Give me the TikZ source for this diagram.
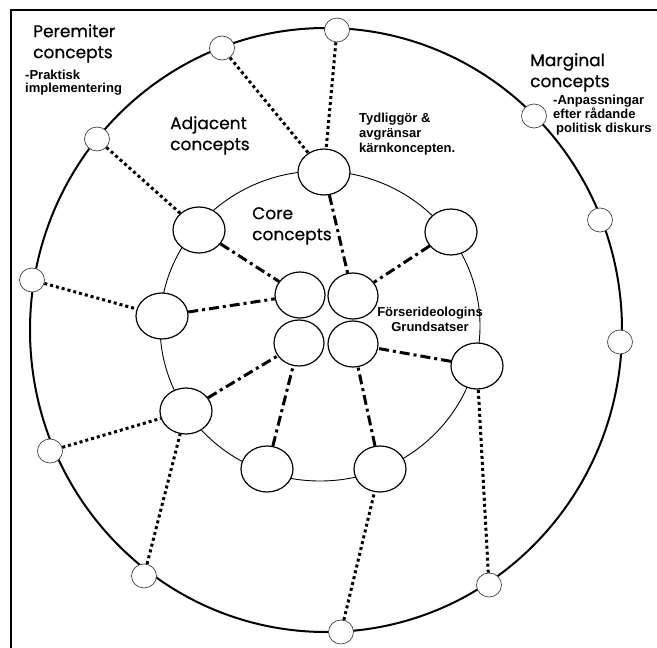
\documentclass[tikz,border=0pt]{standalone}
\usepackage{fontspec}
\setmainfont{Liberation Sans}
\newfontfamily\geo{Poppins}[FakeBold=0.4]
\usetikzlibrary{shapes.geometric}
\begin{document}
\begin{tikzpicture}[x=1pt,y=-1pt,
  bignode/.style={ellipse, draw, line width=1.2pt, fill=white, minimum width=52pt, minimum height=46pt, inner sep=0pt},
  smallnode/.style={ellipse, draw=black!75, line width=0.7pt, fill=white, minimum width=25pt, minimum height=24pt, inner sep=0pt},
  dashdotline/.style={line width=3pt, dash pattern=on 10pt off 4pt on 3pt off 4pt},
  dotline/.style={line width=3pt, dash pattern=on 3pt off 3pt},
  headtxt/.style={font=\geo\fontsize{17}{21}\selectfont, align=left, anchor=north west, inner sep=0pt},
  notetxt/.style={font=\bfseries\fontsize{13}{14}\selectfont, align=left, anchor=north west, inner sep=0pt}
]
\useasboundingbox (0,0) rectangle (657,648);
% frame
\draw[line width=2.5pt] (657,10) -- (11,10) -- (11,648);
% rings
\draw[line width=2pt] (326,330) ellipse [x radius=296pt, y radius=302pt];
\draw[line width=0.9pt] (320,326) ellipse [x radius=160pt, y radius=155pt];
% outer nodes
\node[smallnode] (N1) at (222,48) {};
\node[smallnode] (N2) at (97,139) {};
\node[smallnode] (N3) at (32,280) {};
\node[smallnode] (N4) at (337,30) {};
\node[smallnode] (N5) at (534,116) {};
\node[smallnode] (N6) at (600,220) {};
\node[smallnode] (N7) at (620,342) {};
\node[smallnode] (N8) at (489,585) {};
\node[smallnode] (N9) at (341,632) {};
\node[smallnode] (N10) at (144,576) {};
\node[smallnode] (N11) at (50,451) {};
% adjacent nodes
\node[bignode] (A1) at (199,230) {};
\node[bignode] (A2) at (162,316) {};
\node[bignode] (A3) at (186,411) {};
\node[bignode] (A4) at (267,469) {};
\node[bignode] (A5) at (380,469) {};
\node[bignode] (A6) at (477,366) {};
\node[bignode] (A7) at (451,232) {};
\node[bignode] (A8) at (324,172) {};
% core nodes
\node[bignode, minimum width=50pt] (C1) at (300,295) {};
\node[bignode, minimum width=50pt] (C2) at (353,296) {};
\node[bignode, minimum width=50pt] (C3) at (299,343) {};
\node[bignode, minimum width=50pt] (C4) at (353,344) {};
% dash-dot connectors
\draw[dashdotline] (A1) -- (C1);
\draw[dashdotline] (A2) -- (C1);
\draw[dashdotline] (A8) -- (C2);
\draw[dashdotline] (A7) -- (C2);
\draw[dashdotline] (A6) -- (C4);
\draw[dashdotline] (A5) -- (C4);
\draw[dashdotline] (A4) -- (C3);
\draw[dashdotline] (A3) -- (C3);
% dotted connectors
\draw[dotline] (N1) -- (A8);
\draw[dotline] (N4) -- (A8);
\draw[dotline] (N2) -- (A1);
\draw[dotline] (N3) -- (A2);
\draw[dotline] (N11) -- (A3);
\draw[dotline] (N10) -- (A3);
\draw[dotline] (N9) -- (A5);
\draw[dotline] (N8) -- (A6);
% texts
\node[headtxt] (tPer) at (33,24) {Peremiter\\concepts};
\node[notetxt, font=\bfseries\fontsize{13}{13}\selectfont] (tPrak) at (25,70) {-Praktisk\\implementering};
\node[headtxt] (tAdj) at (170,116) {Adjacent\\concepts};
\node[headtxt] (tCore) at (252,207) {Core\\concepts};
\node[headtxt] (tMarg) at (530,53) {Marginal\\concepts};
\node[notetxt] (tAnp) at (553,95) {-Anpassningar\\efter rådande\\\hspace*{3pt}politisk diskurs};
\node[notetxt, font=\bfseries\fontsize{13}{15}\selectfont] (tTyd) at (359,113) {Tydliggör \&\\avgränsar\\kärnkoncepten.};
\node[notetxt, align=center, anchor=north, font=\bfseries\fontsize{13}{15}\selectfont] (tFor) at (430,307) {Förserideologins\\Grundsatser};
\end{tikzpicture}
\end{document}
